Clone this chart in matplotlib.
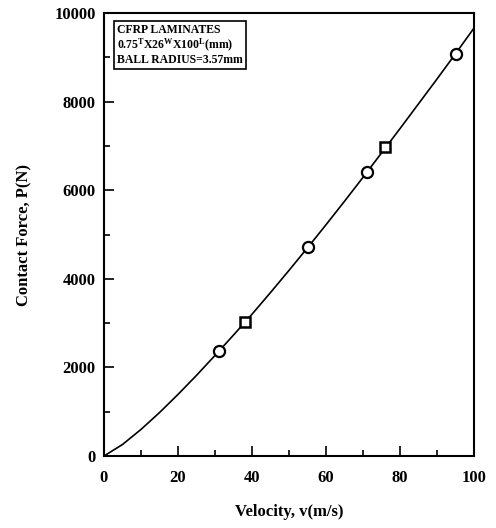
import matplotlib
matplotlib.use("Agg")
import matplotlib.pyplot as plt
from matplotlib.ticker import MultipleLocator

# curve (velocity m/s -> contact force N)
curve_v = [0, 5, 10, 15, 20, 25, 30, 35, 40, 45, 50, 55, 60, 65, 70, 75, 80, 85, 90, 95, 100]
curve_p = [0, 260, 600, 980, 1390, 1820, 2270, 2730, 3200, 3690, 4190, 4700, 5220, 5750,
           6290, 6840, 7390, 7950, 8510, 9080, 9660]

# measured points
circle_v = [31, 55, 71, 95]
circle_p = [2360, 4720, 6410, 9080]
square_v = [38, 76]
square_p = [3020, 6970]

box_lines = ["CFRP LAMINATES",
             r"0.75$^{T}$X26$^{W}$X100$^{L}$(mm)",
             "BALL RADIUS=3.57mm"]

plt.rcParams.update({
    "font.family": "Liberation Serif",
    "font.weight": "bold",
    "mathtext.fontset": "custom",
    "mathtext.rm": "Liberation Serif:bold",
    "mathtext.it": "Liberation Serif:bold",
    "mathtext.bf": "Liberation Serif:bold",
    "mathtext.default": "rm",
})

fig = plt.figure(figsize=(4.96, 5.28), dpi=100)
ax = fig.add_axes([104 / 496, 1 - 456 / 528, 370 / 496, 443 / 528])

ax.plot(curve_v, curve_p, color="black", lw=1.2)
ax.plot(circle_v, circle_p, "o", ms=8, mfc="white", mec="black", mew=1.6)
ax.plot(square_v, square_p, "s", ms=7, mfc="white", mec="black", mew=1.8)

ax.set_xlim(0, 100)
ax.set_ylim(0, 10000)
ax.xaxis.set_major_locator(MultipleLocator(20))
ax.xaxis.set_minor_locator(MultipleLocator(10))
ax.yaxis.set_major_locator(MultipleLocator(2000))
ax.yaxis.set_minor_locator(MultipleLocator(1000))
ax.tick_params(which="both", direction="in", top=False, right=False,
               labelsize=12, width=1.2)
ax.tick_params(axis="x", which="major", length=7, pad=10)
ax.tick_params(axis="y", which="major", length=7, pad=6)
ax.tick_params(which="minor", length=4)
for s in ax.spines.values():
    s.set_linewidth(1.5)

ax.set_xlabel("Velocity, v(m/s)", fontsize=12, fontweight="bold", labelpad=13)
ax.set_ylabel("Contact Force, P(N)", fontsize=12, fontweight="bold", labelpad=16)

ax.text(0.035, 0.975, "\n".join(box_lines), transform=ax.transAxes,
        ha="left", va="top", fontsize=8.5, fontweight="bold", linespacing=1.05,
        bbox=dict(boxstyle="square,pad=0.25", fc="white", ec="black", lw=1.2))

fig.savefig("out.png", dpi=100)
